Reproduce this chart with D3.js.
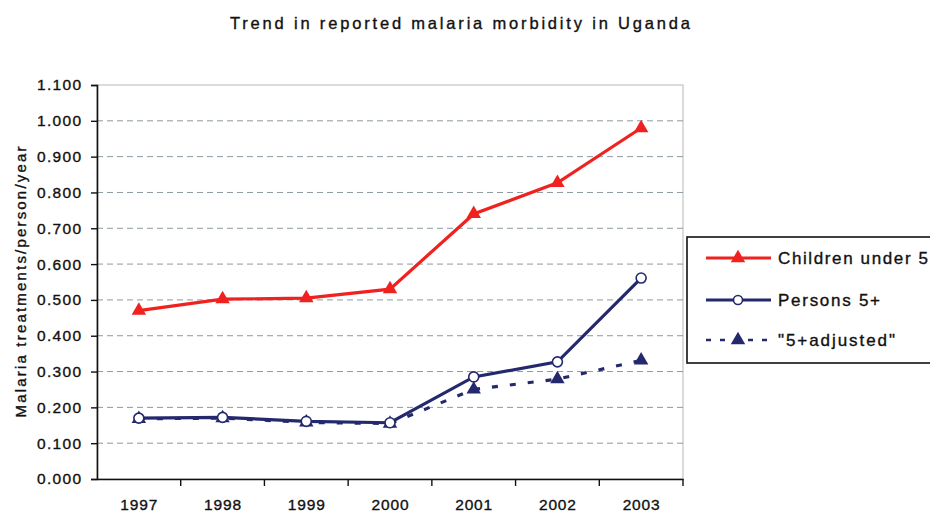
<!DOCTYPE html>
<html><head><meta charset="utf-8">
<script src="https://cdn.jsdelivr.net/npm/d3@7"></script>
<style>body{margin:0;background:#fff}svg{display:block}</style>
</head><body>
<svg id="c" width="930" height="513"></svg>
<script>
const years = ["1997","1998","1999","2000","2001","2002","2003"];
const childrenUnder5 = [0.470, 0.502, 0.505, 0.530, 0.740, 0.827, 0.980];
const persons5plus   = [0.170, 0.172, 0.161, 0.157, 0.285, 0.327, 0.561];
const adjusted5plus  = [0.168, 0.170, 0.158, 0.155, 0.250, 0.279, 0.331];
const yTicks = [0,0.1,0.2,0.3,0.4,0.5,0.6,0.7,0.8,0.9,1.0,1.1];
const seriesNames = ["Children under 5","Persons 5+","\"5+adjusted\""];
const title = "Trend in reported malaria morbidity in Uganda";
const yTitle = "Malaria treatments/person/year";

const svg = d3.select("#c");
const L=97, R=683, T=85, B=479;
const x = d3.scaleBand().domain(years).range([L,R]);
const y = d3.scaleLinear().domain([0,1.1]).range([B,T]);
const cx = d => x(d)+x.bandwidth()/2;
const font = "'Liberation Sans', Arial, sans-serif";
const RED="#f0221f", NAVY="#24296e";
const heavy = s => s.attr("stroke","#111").attr("stroke-width",0.35);

// title
svg.append("text").attr("x",230).attr("y",29).attr("font-family",font).attr("font-size",16.5)
  .attr("textLength",460).attr("lengthAdjust","spacing").attr("fill","#111").text(title).call(heavy);

// plot border (light)
svg.append("rect").attr("x",L).attr("y",T).attr("width",R-L).attr("height",B-T)
  .attr("fill","#fff").attr("stroke","#c4c4c4").attr("stroke-width",1.2);

// gridlines
svg.append("g").selectAll("line").data(yTicks.filter(v=>v>0&&v<1.05)).join("line")
  .attr("x1",L).attr("x2",R).attr("y1",d=>y(d)).attr("y2",d=>y(d))
  .attr("stroke","#8c9aa0").attr("stroke-width",1).attr("stroke-dasharray","6,4");

// y axis
const ya = svg.append("g").attr("transform",`translate(${L},0)`)
  .call(d3.axisLeft(y).tickValues(yTicks).tickFormat(d3.format(".3f")).tickSize(6).tickPadding(10));
ya.select(".domain").attr("stroke","#111").attr("stroke-width",1.6);
ya.selectAll(".tick line").attr("stroke","#111").attr("stroke-width",1.4);
ya.selectAll("text").attr("font-family",font).attr("font-size",15.5).attr("fill","#111")
  .attr("textLength",44).attr("lengthAdjust","spacing").call(heavy);

// x axis
const xa = svg.append("g").attr("transform",`translate(0,${B})`)
  .call(d3.axisBottom(x).tickSize(0).tickPadding(20));
xa.select(".domain").attr("stroke","#111").attr("stroke-width",1.6);
xa.selectAll("text").attr("font-family",font).attr("font-size",15.5).attr("fill","#111")
  .attr("textLength",37).attr("lengthAdjust","spacing").call(heavy);
// boundary ticks
svg.append("g").selectAll("line").data(years.slice(1).concat(["end"])).join("line")
  .attr("x1",d=>d==="end"?R:x(d)).attr("x2",d=>d==="end"?R:x(d))
  .attr("y1",B).attr("y2",B+7).attr("stroke","#111").attr("stroke-width",1.4);

// y title
svg.append("text").attr("transform","translate(26,282) rotate(-90)").attr("text-anchor","middle")
  .attr("font-family",font).attr("font-size",15).attr("fill","#111")
  .attr("textLength",271).attr("lengthAdjust","spacing").text(yTitle).call(heavy);

const line = d3.line().x((d,i)=>cx(years[i])).y(d=>y(d));
const tri = d3.symbol().type(d3.symbolTriangle).size(90);

// adjusted (dashed)
svg.append("path").datum(adjusted5plus).attr("d",line).attr("fill","none")
  .attr("stroke",NAVY).attr("stroke-width",3.2).attr("stroke-dasharray","6,12");
svg.append("g").selectAll("path").data(adjusted5plus).join("path")
  .attr("transform",(d,i)=>`translate(${cx(years[i])},${y(d)})`).attr("d",tri).attr("fill",NAVY);

// persons 5+
svg.append("path").datum(persons5plus).attr("d",line).attr("fill","none")
  .attr("stroke",NAVY).attr("stroke-width",3.2);
svg.append("g").selectAll("circle").data(persons5plus).join("circle")
  .attr("cx",(d,i)=>cx(years[i])).attr("cy",d=>y(d)).attr("r",5)
  .attr("fill","#fff").attr("stroke",NAVY).attr("stroke-width",1.6);

// children under 5
svg.append("path").datum(childrenUnder5).attr("d",line).attr("fill","none")
  .attr("stroke",RED).attr("stroke-width",3.2);
svg.append("g").selectAll("path").data(childrenUnder5).join("path")
  .attr("transform",(d,i)=>`translate(${cx(years[i])},${y(d)})`).attr("d",tri).attr("fill",RED);

// legend
const lg = svg.append("g");
lg.append("rect").attr("x",687).attr("y",237).attr("width",260).attr("height",126)
  .attr("fill","#fff").attr("stroke","#111").attr("stroke-width",1.6);
const rows=[258,300,340];
seriesNames.forEach((n,i)=>{
  const g=lg.append("g");
  const ln=g.append("line").attr("x1",706).attr("x2",771).attr("y1",rows[i]).attr("y2",rows[i])
    .attr("stroke",i===0?RED:NAVY).attr("stroke-width",i===2?2.5:3);
  if(i===2) ln.attr("stroke-dasharray","5,9");
  if(i===1) g.append("circle").attr("cx",738).attr("cy",rows[i]).attr("r",4.5)
    .attr("fill","#fff").attr("stroke",NAVY).attr("stroke-width",1.6);
  else g.append("path").attr("transform",`translate(738,${rows[i]})`).attr("d",tri)
    .attr("fill",i===0?RED:NAVY);
  const tw=[150,102,117][i];
  g.append("text").attr("x",778).attr("y",rows[i]+6).attr("font-family",font).attr("font-size",17)
    .attr("fill","#111").attr("textLength",tw).attr("lengthAdjust","spacing").text(n).call(heavy);
});
</script>
</body></html>
